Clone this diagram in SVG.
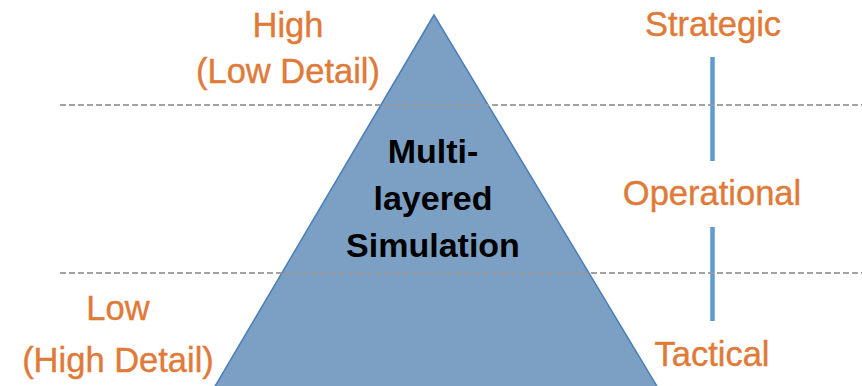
<svg xmlns="http://www.w3.org/2000/svg" width="862" height="386" viewBox="0 0 862 386">
  <style>
    .lbl { font-family: "Liberation Sans", Arial, sans-serif; font-size: 34.5px; fill: #e07a38; text-anchor: middle; stroke: #e07a38; stroke-width: 0.4; }
    .core { font-family: "Liberation Sans", Arial, sans-serif; font-size: 34px; font-weight: bold; fill: #000000; text-anchor: middle; }
    .div { stroke: #999999; stroke-width: 2; stroke-dasharray: 6 3; opacity: 0.9; }
    .link { stroke: #5f9bd0; stroke-width: 4.5; }
  </style>
  <rect width="862" height="386" fill="#ffffff"/>

  <g id="pyramid">
    <polygon points="434,15 214,388 658,388" fill="#7ba0c4" stroke="#4a7ebb" stroke-width="1.5"/>
    <text class="core" x="433" y="163">Multi-</text>
    <text class="core" x="433" y="210">layered</text>
    <text class="core" x="433" y="257">Simulation</text>
  </g>

  <g id="label-high">
    <text class="lbl" x="288" y="37">High</text>
    <text class="lbl" x="288" y="83">(Low Detail)</text>
  </g>

  <g id="label-low">
    <text class="lbl" x="118" y="320">Low</text>
    <text class="lbl" x="118" y="372">(High Detail)</text>
  </g>

  <g id="strategic">
    <text class="lbl" x="713" y="36">Strategic</text>
  </g>
  <g id="operational">
    <text class="lbl" x="712" y="205">Operational</text>
  </g>
  <g id="tactical">
    <text class="lbl" x="712" y="366">Tactical</text>
  </g>

  <g id="connectors">
    <line class="link" x1="712.5" y1="57" x2="712.5" y2="161"/>
    <line class="link" x1="712.5" y1="227" x2="712.5" y2="321"/>
    <line class="div" x1="60" y1="105" x2="862" y2="105"/>
    <line class="div" x1="60" y1="273" x2="862" y2="273"/>
  </g>
</svg>
